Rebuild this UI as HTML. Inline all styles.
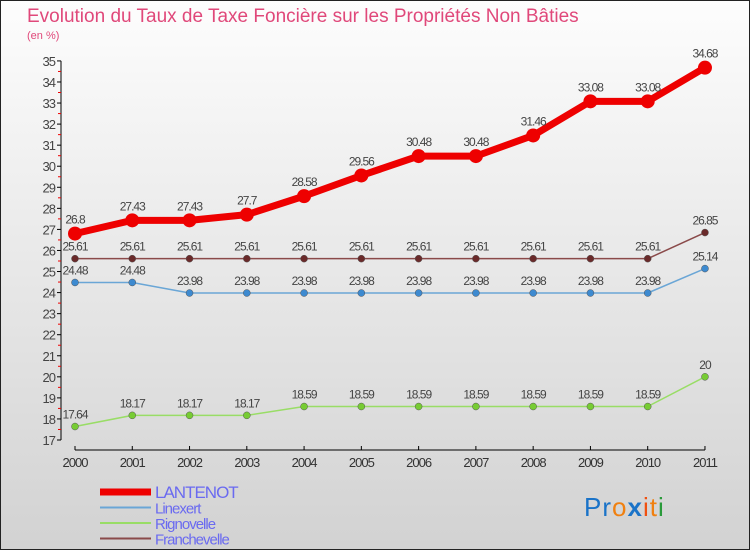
<!DOCTYPE html>
<html><head><meta charset="utf-8"><style>
body{margin:0;}
#c{width:750px;height:550px;position:relative;background:linear-gradient(#fdfdfd,#d2d2d2);box-sizing:border-box;border:1px solid #222;font-family:"Liberation Sans",sans-serif;overflow:hidden;}
</style></head><body>
<div id="c">
<svg id="s" width="750" height="550" style="position:absolute;left:-1px;top:-1px">
<text x="27" y="22" font-size="19" fill="#e0487a">Evolution du Taux de Taxe Foncière sur les Propriétés Non Bâties</text>
<text x="27" y="39" font-size="11" fill="#e0487a">(en %)</text>
<g id="g"></g>
<text x="584" y="516" font-size="26" fill="#1a73c8" letter-spacing="1">Pr<tspan fill="#f08010">o</tspan><tspan fill="#1a73c8" font-weight="bold">x</tspan><tspan fill="#f05010">i</tspan><tspan fill="#f08010">t</tspan><tspan fill="#2a9a3a">i</tspan></text>
</svg>
</div>
<script>
const years=["2000","2001","2002","2003","2004","2005","2006","2007","2008","2009","2010","2011"];
const lantenot=[26.8,27.43,27.43,27.7,28.58,29.56,30.48,30.48,31.46,33.08,33.08,34.68];
const linexert=[24.48,24.48,23.98,23.98,23.98,23.98,23.98,23.98,23.98,23.98,23.98,25.14];
const rignovelle=[17.64,18.17,18.17,18.17,18.59,18.59,18.59,18.59,18.59,18.59,18.59,20];
const franchevelle=[25.61,25.61,25.61,25.61,25.61,25.61,25.61,25.61,25.61,25.61,25.61,26.85];
const yTicks=[17,18,19,20,21,22,23,24,25,26,27,28,29,30,31,32,33,34,35];
const names=["LANTENOT","Linexert","Rignovelle","Franchevelle"];
const NS="http://www.w3.org/2000/svg",g=document.getElementById('g');
const X=i=>75+i*57.27, Y=v=>440-(v-17)*21.06;
function el(t,a,p){const e=document.createElementNS(NS,t);for(const k in a)e.setAttribute(k,a[k]);(p||g).appendChild(e);return e;}
let ax=el('line',{x1:61,y1:Y(35),x2:61,y2:Y(17),stroke:'#000'});

yTicks.forEach(v=>{el('line',{x1:57,x2:61,y1:Y(v),y2:Y(v),stroke:'#000'});
 if(v<35)el('line',{x1:58,x2:61,y1:Y(v+0.5),y2:Y(v+0.5),stroke:'#e00'});
 const t=el('text',{x:55,y:Y(v)+5,'text-anchor':'end','font-size':13,fill:'#444','letter-spacing':'-1'});t.textContent=v;
 });
let xa=el('line',{x1:75,x2:X(11),y1:450,y2:450,stroke:'#000'});

years.forEach((y,i)=>{el('line',{x1:X(i),x2:X(i),y1:446,y2:450,stroke:'#000'});
 const t=el('text',{x:X(i),y:467,'text-anchor':'middle','font-size':13,fill:'#333','letter-spacing':'-1'});t.textContent=y;
 });
const series=[[lantenot,'#ee0000',7,7,'#ee0000'],[linexert,'#6aa6d6',1.5,3.5,'#3d8ad0'],[rignovelle,'#99dd66',1.5,3.5,'#77cc33'],[franchevelle,'#8a4a4a',1.5,3.5,'#6a2a2a']];
series.forEach((s,k)=>{const [d,c,w,r,mc]=s;
 const p=el('polyline',{points:d.map((v,i)=>X(i)+','+Y(v)).join(' '),fill:'none',stroke:c,'stroke-width':w,'stroke-linejoin':'round'});
 
 d.forEach((v,i)=>{const m=el('circle',{cx:X(i),cy:Y(v),r:r,fill:mc,stroke:k?'#555':'none','stroke-width':0.5});
  
  const t=el('text',{x:X(i),y:Y(v)-(k?8:10),'text-anchor':'middle','font-size':12,fill:'#444','letter-spacing':'-1'});t.textContent=v;
  });
 const ly=492+k*15.5;
 const ll=el('line',{x1:100,x2:151,y1:ly,y2:ly,stroke:c,'stroke-width':k?2:7});
 
 const lt=el('text',{x:155,y:ly+6,'font-size':k?15:17,fill:'#6a6af0','letter-spacing':'-1'});lt.textContent=names[k];
 });
</script>
</body></html>
